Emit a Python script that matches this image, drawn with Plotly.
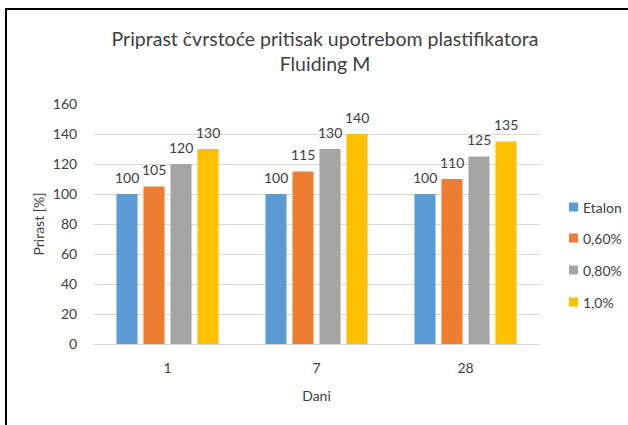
import plotly.graph_objects as go

categories = ["1", "7", "28"]
series_names = ["Etalon", "0,60%", "0,80%", "1,0%"]
etalon = [100, 100, 100]
p060 = [105, 115, 110]
p080 = [120, 130, 125]
p100 = [130, 140, 135]
series_values = [etalon, p060, p080, p100]
colors = ["#5B9BD5", "#ED7D31", "#A5A5A5", "#FFC000"]
y_ticks = [0, 20, 40, 60, 80, 100, 120, 140, 160]

FONT = "Lato"
TXT = "#404040"
FS = 14

# plot area in pixels
L, R, T, B = 93, 88, 104, 81
W, H = 628, 425
pw, ph = W - L - R, H - T - B
BARGAP = 0.275
slot = pw / len(categories) * (1 - BARGAP) / len(series_names)

def px(x):
    return (x - L) / pw

def py(y):
    return (H - B - y) / ph

fig = go.Figure()
annotations = []
for i, (name, vals) in enumerate(zip(series_names, series_values)):
    fig.add_trace(go.Bar(
        x=categories, y=vals, name=name,
        marker=dict(color=colors[i], line=dict(width=0)),
        showlegend=False,
    ))
    off = (i - (len(series_names) - 1) / 2) * slot
    for j, v in enumerate(vals):
        annotations.append(dict(
            text=str(v), x=j, y=v, xref="x", yref="y",
            xshift=off, yshift=17, xanchor="center", yanchor="middle",
            showarrow=False, font=dict(family=FONT, size=FS, color=TXT),
        ))

# legend drawn beside the plot (squares + real text)
legend_rows_y = [207, 238, 270, 302]
shapes = [dict(
    type="rect", xref="paper", yref="paper",
    x0=px(6), x1=px(660), y0=py(460), y1=py(9),
    line=dict(color="black", width=2), fillcolor="rgba(0,0,0,0)", layer="below",
)]
for name, col, yy in zip(series_names, colors, legend_rows_y):
    shapes.append(dict(
        type="rect", xref="paper", yref="paper",
        x0=px(569), x1=px(578), y0=py(yy + 4.5), y1=py(yy - 4.5),
        line=dict(width=0), fillcolor=col,
    ))
    annotations.append(dict(
        text=name, xref="paper", yref="paper", x=px(581), y=py(yy),
        xanchor="left", yanchor="middle", showarrow=False,
        font=dict(family=FONT, size=FS, color=TXT),
    ))

fig.update_layout(
    width=W, height=H,
    margin=dict(l=L, r=R, t=T, b=B, autoexpand=False),
    paper_bgcolor="white", plot_bgcolor="white",
    barmode="group", bargap=BARGAP, bargroupgap=0.22,
    font=dict(family=FONT, size=FS, color=TXT),
    title=dict(
        text="Priprast čvrstoće pritisak upotrebom plastifikatora<br>Fluiding M",
        x=px(325), xref="paper", xanchor="center",
        y=1 - 46 / H, yanchor="top",
        font=dict(family=FONT, size=19.5, color=TXT),
    ),
    showlegend=False,
    xaxis=dict(
        type="category",
        showgrid=False, showline=True, linecolor="#D9D9D9", linewidth=1,
        ticks="outside", ticklen=11, tickcolor="rgba(0,0,0,0)",
        tickfont=dict(family=FONT, size=FS, color=TXT),
        title=dict(text="Dani", font=dict(family=FONT, size=FS, color=TXT), standoff=16),
        zeroline=False,
    ),
    yaxis=dict(
        range=[0, 160], tickvals=y_ticks,
        showgrid=True, gridcolor="#D9D9D9", gridwidth=1,
        zeroline=False, showline=False,
        ticks="outside", ticklen=12, tickcolor="rgba(0,0,0,0)",
        tickfont=dict(family=FONT, size=FS, color=TXT),
        title=dict(text="Prirast [%]", font=dict(family=FONT, size=FS, color=TXT), standoff=4),
    ),
    shapes=shapes,
    annotations=annotations,
)

fig.write_html(
    "out.html",
    config={"displayModeBar": False},
    post_script="document.body.style.margin='0';document.body.style.overflow='hidden';",
)
